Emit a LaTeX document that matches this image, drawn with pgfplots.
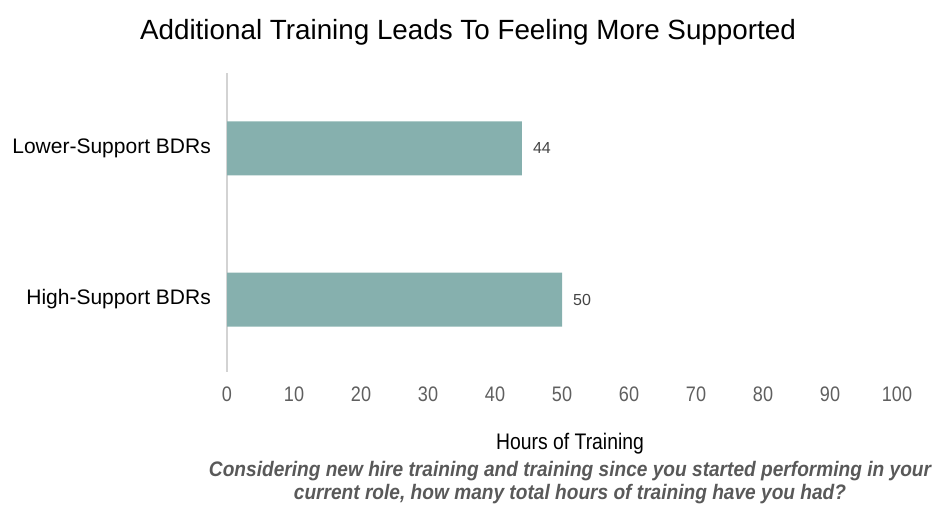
\documentclass[border=0pt]{standalone}
\usepackage{pgfplots}
\pgfplotsset{compat=1.18}
\usepackage{fontspec}
\setmainfont{Liberation Sans}
\newfontfamily\narrowfont[FakeStretch=0.86]{Liberation Sans}
\newfontfamily\notefont[FakeStretch=0.91]{Liberation Sans}
\definecolor{barteal}{HTML}{86B0AE}
\definecolor{axisgray}{HTML}{D3D3D3}
\definecolor{tickgray}{HTML}{5F5F5F}
\definecolor{notegray}{HTML}{595959}
\definecolor{valgray}{HTML}{444444}

\begin{document}
\begin{tikzpicture}[x=1bp,y=1bp]
    \path[use as bounding box] (0,0) rectangle (936,510);

    % title
    \node at (468,478) {\fontsize{27.8bp}{32bp}\selectfont Additional Training Leads To Feeling More Supported};

    \begin{axis}[
        at={(227bp,138bp)}, anchor=south west,
        scale only axis, width=670bp, height=299bp,
        xbar, bar width=54bp,
        xmin=0, xmax=100, ymin=0.52, ymax=2.5,
        clip=false,
        axis lines*=left,
        x axis line style={draw=none},
        y axis line style={draw=axisgray, line width=1.5bp},
        major tick length=0,
        xtick={0,10,...,100},
        ytick={1,2},
        yticklabels={High-Support BDRs, Lower-Support BDRs},
        xticklabel style={font=\narrowfont\fontsize{21bp}{24bp}\selectfont, text=tickgray,
            anchor=base, inner sep=0pt, yshift=-30bp},
        yticklabel style={font=\fontsize{21bp}{24bp}\selectfont, text=black,
            anchor=east, inner sep=0pt, xshift=-16bp},
        /pgf/number format/assume math mode=true,
        nodes near coords,
        every node near coord/.append style={font=\fontsize{16bp}{18bp}\selectfont,
            text=valgray, anchor=west, inner sep=0pt, xshift=11bp},
    ]
        \addplot[draw=none, fill=barteal] coordinates {(50,1) (44,2)};
    \end{axis}

    % axis title and survey question
    \node at (570,66) {\narrowfont\fontsize{22.5bp}{26bp}\selectfont Hours of Training};
    \node[align=center, text=notegray, inner sep=0pt,
        font=\notefont\bfseries\itshape\fontsize{21bp}{23bp}\selectfont] at (570,27)
        {Considering new hire training and training since you started performing in your\\
        current role, how many total hours of training have you had?};
\end{tikzpicture}
\end{document}
